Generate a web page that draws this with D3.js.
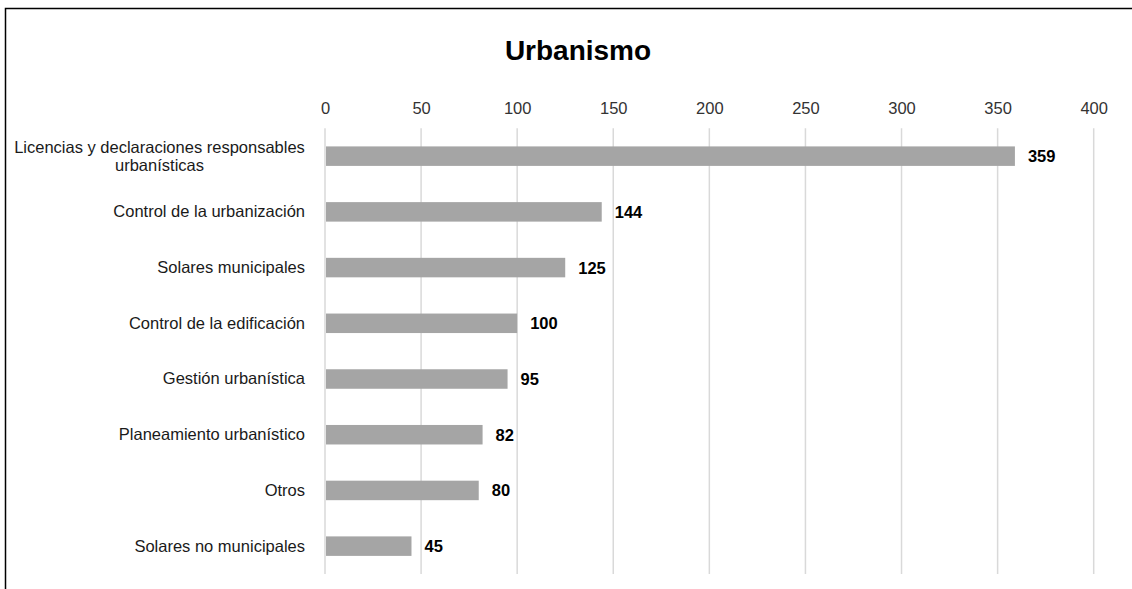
<!DOCTYPE html>
<html>
<head>
<meta charset="utf-8">
<script src="https://cdn.jsdelivr.net/npm/d3@7"></script>
<style>
  html, body { margin: 0; padding: 0; background: #fff; }
  svg { display: block; font-family: "Liberation Sans", Arial, sans-serif; }
</style>
</head>
<body>
<svg id="chart" width="1132" height="589"></svg>
<script>
const categories = [
  "Licencias y declaraciones responsables urbanísticas",
  "Control de la urbanización",
  "Solares municipales",
  "Control de la edificación",
  "Gestión urbanística",
  "Planeamiento urbanístico",
  "Otros",
  "Solares no municipales"
];
const values = [359, 144, 125, 100, 95, 82, 80, 45];
const tickValues = [0, 50, 100, 150, 200, 250, 300, 350, 400];
const title = "Urbanismo";

const svg = d3.select("#chart");
const fs = 16.5;

// frame (only top and left edges fall inside the viewport)
svg.append("rect")
  .attr("x", 5.5).attr("y", 8.5)
  .attr("width", 1200).attr("height", 700)
  .attr("fill", "none").attr("stroke", "#000").attr("stroke-width", 1.5);

svg.append("text")
  .attr("x", 578).attr("y", 60)
  .attr("text-anchor", "middle")
  .attr("font-size", 28).attr("font-weight", "bold")
  .attr("fill", "#000")
  .text(title);

const x = d3.scaleLinear().domain([0, 400]).range([325, 1093.7]);
const y = d3.scaleBand().domain(categories).range([128.3, 574]).paddingInner(0.65).paddingOuter(0.325);

// vertical gridlines
svg.append("g").selectAll("line").data(tickValues).join("line")
  .attr("x1", d => x(d)).attr("x2", d => x(d))
  .attr("y1", 128.3).attr("y2", 574)
  .attr("stroke", "#d9d9d9").attr("stroke-width", 1.5);

// top axis labels
const axis = svg.append("g").attr("transform", "translate(0,113.5)")
  .call(d3.axisTop(x).tickValues(tickValues).tickSize(0).tickPadding(0));
axis.select(".domain").remove();
axis.selectAll("text")
  .attr("font-size", fs).attr("fill", "#333")
  .attr("font-family", "Liberation Sans, Arial, sans-serif");

// bars
svg.append("g").selectAll("rect").data(values).join("rect")
  .attr("x", x(0) + 1)
  .attr("y", (d, i) => y(categories[i]))
  .attr("width", d => x(d) - x(0) - 1)
  .attr("height", y.bandwidth())
  .attr("fill", "#a5a5a5");

// value labels
svg.append("g").selectAll("text").data(values).join("text")
  .attr("x", d => x(d) + 13)
  .attr("y", (d, i) => y(categories[i]) + y.bandwidth() / 2)
  .attr("dy", "0.36em")
  .attr("font-size", fs).attr("font-weight", "bold").attr("fill", "#000")
  .text(d => d);

// category labels, wrapped where too long
const catG = svg.append("g");
categories.forEach((c, i) => {
  const cy = y(c) + y.bandwidth() / 2;
  const lines = c.length > 40 ? ["Licencias y declaraciones responsables", "urbanísticas"] : [c];
  const t = catG.append("text")
    .attr("font-size", fs).attr("fill", "#1a1a1a")
    .attr("text-anchor", lines.length > 1 ? "middle" : "end");
  if (lines.length > 1) {
    lines.forEach((l, k) => {
      t.append("tspan")
        .attr("x", 159.5)
        .attr("y", cy - 3.2 + k * 18.4)
        .text(l);
    });
  } else {
    t.attr("x", 305).attr("y", cy).attr("dy", "0.33em").text(c);
  }
});
</script>
</body>
</html>
